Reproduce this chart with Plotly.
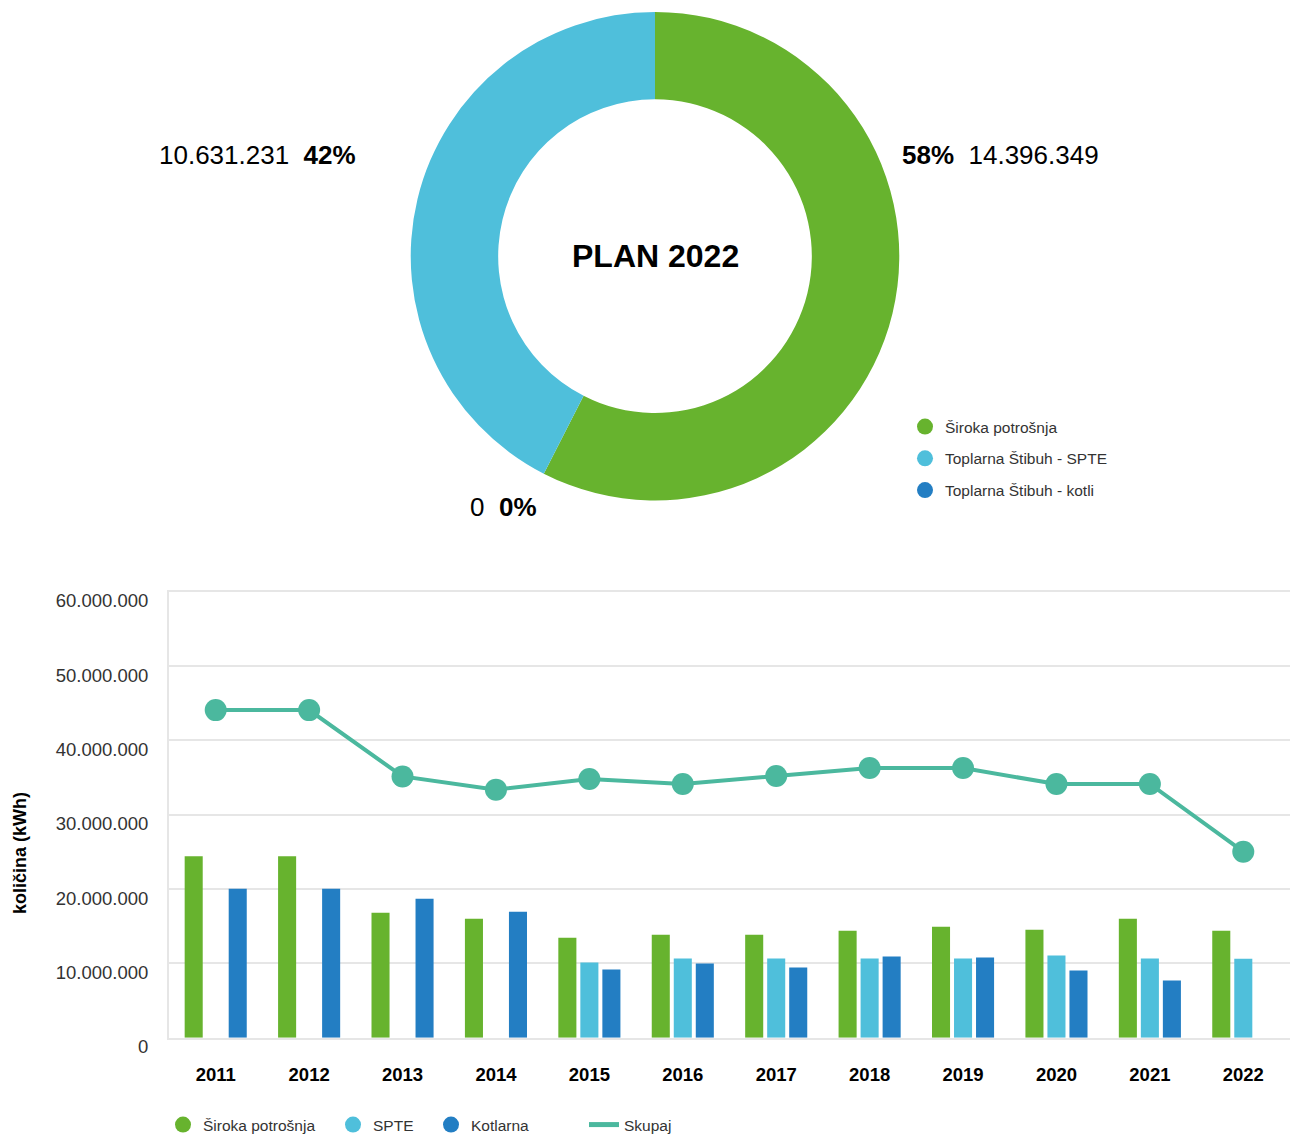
import plotly.graph_objects as go

# ---- donut data ----
pie_labels = ["Široka potrošnja", "Toplarna Štibuh - SPTE", "Toplarna Štibuh - kotli"]
pie_values = [14396349, 10631231, 0]
pie_colors = ["#67b32e", "#4fbfdb", "#237ec3"]

# ---- bar / line data ----
years = ["2011", "2012", "2013", "2014", "2015", "2016", "2017", "2018", "2019", "2020", "2021", "2022"]
siroka = [24430000, 24430000, 16800000, 16000000, 13460000, 13860000, 13860000, 14400000, 14930000, 14530000, 16000000, 14396349]
spte = [0, 0, 0, 0, 10120000, 10660000, 10660000, 10660000, 10660000, 11060000, 10660000, 10631231]
kotlarna = [20050000, 20050000, 18680000, 16940000, 9190000, 9990000, 9450000, 10920000, 10790000, 9050000, 7710000, 0]
skupaj = [44080000, 44080000, 35160000, 33380000, 34810000, 34140000, 35210000, 36280000, 36280000, 34140000, 34140000, 25027580]

bar_names = ["Široka potrošnja", "SPTE", "Kotlarna"]
bar_colors = ["#67b32e", "#4fbfdb", "#237ec3"]
line_color = "#4bb89e"

W, H = 1290, 1142
FONT = "Liberation Sans, Arial, sans-serif"

def px(x):
    return x / W

def py(y):
    return 1 - y / H

fig = go.Figure()

# donut
fig.add_trace(go.Pie(
    labels=pie_labels, values=pie_values, hole=0.642,
    marker=dict(colors=pie_colors, line=dict(width=0)),
    sort=False, direction="clockwise", rotation=0,
    textinfo="none", showlegend=False, hoverinfo="label+value+percent",
    domain=dict(x=[px(409), px(901)], y=[py(504), py(12)]),
))

# bars
for name, vals, col in zip(bar_names, [siroka, spte, kotlarna], bar_colors):
    fig.add_trace(go.Bar(x=years, y=vals, name=name, marker=dict(color=col, line=dict(width=0)),
                         showlegend=False))

fig.add_trace(go.Scatter(x=years, y=skupaj, name="Skupaj", mode="lines+markers",
                         line=dict(color=line_color, width=4),
                         marker=dict(size=22, color=line_color), showlegend=False))

# legend entries for bottom chart (one legend per entry for exact placement)
bottom_legends = ["legend", "legend3", "legend4"]
for name, col, lg in zip(bar_names, bar_colors, bottom_legends):
    fig.add_trace(go.Scatter(x=[None], y=[None], name=name, mode="markers",
                             marker=dict(size=18, color=col, symbol="circle"), legend=lg))
fig.add_trace(go.Scatter(x=[None], y=[None], name="Skupaj", mode="lines",
                         line=dict(color=line_color, width=5), legend="legend5"))

# legend entries for donut
donut_legends = ["legend2", "legend6", "legend7"]
for name, col, lg in zip(pie_labels, pie_colors, donut_legends):
    fig.add_trace(go.Scatter(x=[None], y=[None], name=name, mode="markers",
                             marker=dict(size=18, color=col, symbol="circle"), legend=lg))

annotations = [
    dict(text="<b>PLAN 2022</b>", x=px(655), y=py(258), xref="paper", yref="paper",
         showarrow=False, font=dict(size=32, color="#000", family=FONT), xanchor="center", yanchor="middle"),
    dict(text="10.631.231\u00a0\u00a0<b>42%</b>", x=px(358), y=py(156), xref="paper", yref="paper",
         showarrow=False, font=dict(size=26, color="#000", family=FONT), xanchor="right", yanchor="middle"),
    dict(text="<b>58%</b>\u00a0\u00a014.396.349", x=px(900), y=py(156), xref="paper", yref="paper",
         showarrow=False, font=dict(size=26, color="#000", family=FONT), xanchor="left", yanchor="middle"),
    dict(text="0\u00a0\u00a0<b>0%</b>", x=px(468), y=py(511), xref="paper", yref="paper",
         showarrow=False, font=dict(size=26, color="#000", family=FONT), xanchor="left", yanchor="middle"),
    dict(text="<b>količina (kWh)</b>", x=px(20), y=py(859), xref="paper", yref="paper",
         showarrow=False, textangle=-90, font=dict(size=18, color="#000", family=FONT),
         xanchor="center", yanchor="middle"),
]

leg_font = dict(size=15.5, color="#333", family=FONT)

def leg(x, y):
    return dict(orientation="v", x=px(x), y=py(y), xanchor="left", yanchor="middle",
                font=leg_font, bgcolor="rgba(0,0,0,0)", borderwidth=0)

fig.update_layout(
    width=W, height=H, autosize=False,
    margin=dict(l=0, r=0, t=0, b=0, pad=0),
    paper_bgcolor="white", plot_bgcolor="white",
    separators=",.",
    font=dict(family=FONT, color="#333"),
    barmode="group", bargap=0.293, bargroupgap=0.18,
    xaxis=dict(domain=[px(169), 1.0], type="category", range=[-0.5, 11.5], showgrid=False,
               showline=True, mirror=True, linecolor="#e6e6e6", linewidth=2,
               tickfont=dict(size=18.5, color="#000", family=FONT, weight="bold"), ticks="outside",
               ticklen=19, tickcolor="rgba(0,0,0,0)", automargin=False, fixedrange=True),
    yaxis=dict(domain=[py(1045), py(596)], range=[0, 60000000], dtick=10000000,
               tickformat=",d", showgrid=True, gridcolor="#e6e6e6", gridwidth=2,
               showline=True, linecolor="#e6e6e6", linewidth=2, zeroline=False,
               tickfont=dict(size=18.5, color="#333", family=FONT), ticks="outside",
               ticklen=15, tickcolor="rgba(0,0,0,0)", ticklabelshift=9,
               automargin=False, fixedrange=True),
    legend=leg(163, 1133),
    legend3=leg(333, 1133),
    legend4=leg(431, 1133),
    legend5=leg(584, 1133),
    legend2=leg(905, 430),
    legend6=leg(905, 462),
    legend7=leg(905, 494),
    annotations=annotations,
)

fig.write_html("out.html",
               config={"responsive": False, "displayModeBar": False},
               post_script="document.body.style.margin='0';document.body.style.overflow='hidden';")
